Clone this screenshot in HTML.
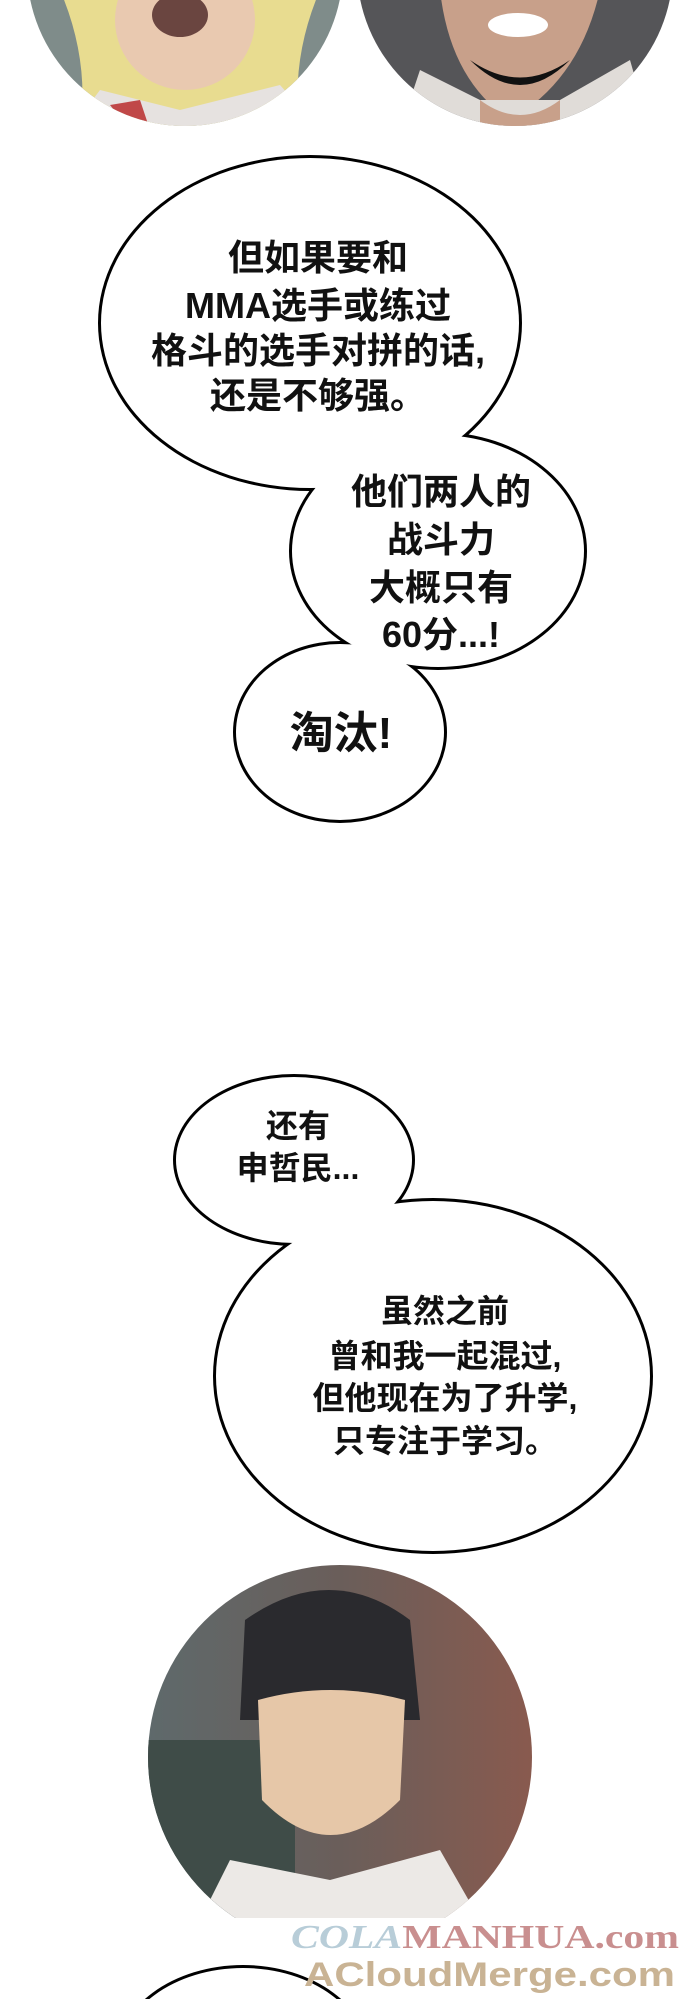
<!DOCTYPE html>
<html><head><meta charset="utf-8"><style>
html,body{margin:0;padding:0;background:#fff;width:690px;height:1999px;overflow:hidden;}
svg{display:block;}
text{font-family:"Liberation Sans","Noto Sans CJK SC",sans-serif;font-weight:bold;fill:#111;text-anchor:middle;}
</style></head><body>
<svg width="690" height="1999" viewBox="0 0 690 1999" xmlns="http://www.w3.org/2000/svg">
<defs>
<clipPath id="c1"><circle cx="185" cy="-32" r="158"/></clipPath>
<clipPath id="c2"><circle cx="515" cy="-32" r="158"/></clipPath>
<clipPath id="c3"><circle cx="340" cy="1757" r="192"/></clipPath>
<linearGradient id="bg3" x1="0" x2="1"><stop offset="0" stop-color="#5e6a6c"/><stop offset="0.5" stop-color="#6a5e5a"/><stop offset="1" stop-color="#8a5a4e"/></linearGradient>
</defs>
<g clip-path="url(#c1)">
<rect x="0" y="-200" width="360" height="330" fill="#7f8c8a"/>
<path d="M60 -10 Q90 60 80 130 L300 130 Q290 60 320 -10 Z" fill="#e8dc90"/>
<ellipse cx="185" cy="20" rx="70" ry="70" fill="#e9c9b0"/>
<ellipse cx="180" cy="15" rx="28" ry="22" fill="#6a4540"/>
<path d="M70 130 L100 90 L180 110 L280 85 L320 130 Z" fill="#e6e2e0"/>
<path d="M110 105 L130 130 L150 130 L140 100 Z" fill="#c04848"/>
</g>
<g clip-path="url(#c2)">
<rect x="350" y="-200" width="340" height="330" fill="#555558"/>
<path d="M440 -10 Q450 80 510 120 Q580 80 600 -10 Z" fill="#c8a08a"/>
<path d="M400 130 L420 70 L480 100 L560 100 L630 60 L650 130 Z" fill="#e0dcd8"/>
<path d="M480 100 Q520 130 560 100 L560 130 L480 130 Z" fill="#c8a08a"/>
<ellipse cx="518" cy="25" rx="30" ry="12" fill="#fff"/>
<path d="M470 60 Q520 110 570 60 Q520 95 470 60 Z" fill="#111"/>
</g>
<g fill="#000">
<ellipse cx="310" cy="323" rx="212" ry="168"/>
<ellipse cx="438" cy="551" rx="149" ry="119"/>
<ellipse cx="340" cy="732" rx="107" ry="91"/>
<ellipse cx="294" cy="1160" rx="121" ry="86"/>
<ellipse cx="433" cy="1376" rx="220" ry="178"/>
<ellipse cx="243" cy="2060" rx="128" ry="95"/>
<path d="M380 470 L470 440 L420 500 Z"/>
<path d="M300 1215 L340 1220 L330 1260 Z"/>
</g>
<g fill="#fff">
<ellipse cx="310" cy="323" rx="209" ry="165"/>
<ellipse cx="438" cy="551" rx="146" ry="116"/>
<ellipse cx="340" cy="732" rx="104" ry="88"/>
<ellipse cx="294" cy="1160" rx="118" ry="83"/>
<ellipse cx="433" cy="1376" rx="217" ry="175"/>
<ellipse cx="243" cy="2060" rx="125" ry="92"/>
<path d="M382 468 L466 442 L422 497 Z"/>
<path d="M302 1213 L338 1218 L331 1256 Z"/>
</g>
<g font-size="36">
<text x="318" y="270">但如果要和</text>
<text x="318" y="318">MMA选手或练过</text>
<text x="318" y="363">格斗的选手对拼的话,</text>
<text x="318" y="408">还是不够强。</text>
<text x="441" y="504">他们两人的</text>
<text x="441" y="552">战斗力</text>
<text x="441" y="600">大概只有</text>
<text x="441" y="647">60分...!</text>
<text x="341" y="748" font-size="44">淘汰!</text>
</g>
<g font-size="32">
<text x="298" y="1137">还有</text>
<text x="298" y="1179">申哲民...</text>
<text x="445" y="1322">虽然之前</text>
<text x="445" y="1367">曾和我一起混过,</text>
<text x="445" y="1409">但他现在为了升学,</text>
<text x="445" y="1452">只专注于学习。</text>
</g>
<g clip-path="url(#c3)">
<rect x="140" y="1560" width="400" height="360" fill="url(#bg3)"/>
<rect x="145" y="1740" width="150" height="180" fill="#3f4c48"/>
<path d="M245 1620 Q330 1560 410 1620 L420 1720 L240 1720 Z" fill="#2a2a2e"/>
<path d="M258 1700 Q330 1680 405 1700 L400 1800 Q330 1870 262 1800 Z" fill="#e6c7a8"/>
<path d="M200 1920 L230 1860 L330 1880 L440 1850 L480 1920 Z" fill="#ece9e6"/>
</g>
<rect x="140" y="1918" width="400" height="40" fill="#fff"/>
<text x="291" y="1948" font-size="34" textLength="388" lengthAdjust="spacingAndGlyphs" style="text-anchor:start;font-family:'Liberation Serif',serif;fill:#c98f8f"><tspan style="fill:#b8cdd8;font-style:italic">COLA</tspan>MANHUA.com</text>
<text x="304" y="1986" font-size="34" textLength="371" lengthAdjust="spacingAndGlyphs" style="text-anchor:start;font-family:'Liberation Sans',sans-serif;fill:#c9b394">ACloudMerge.com</text>
</svg>
</body></html>
